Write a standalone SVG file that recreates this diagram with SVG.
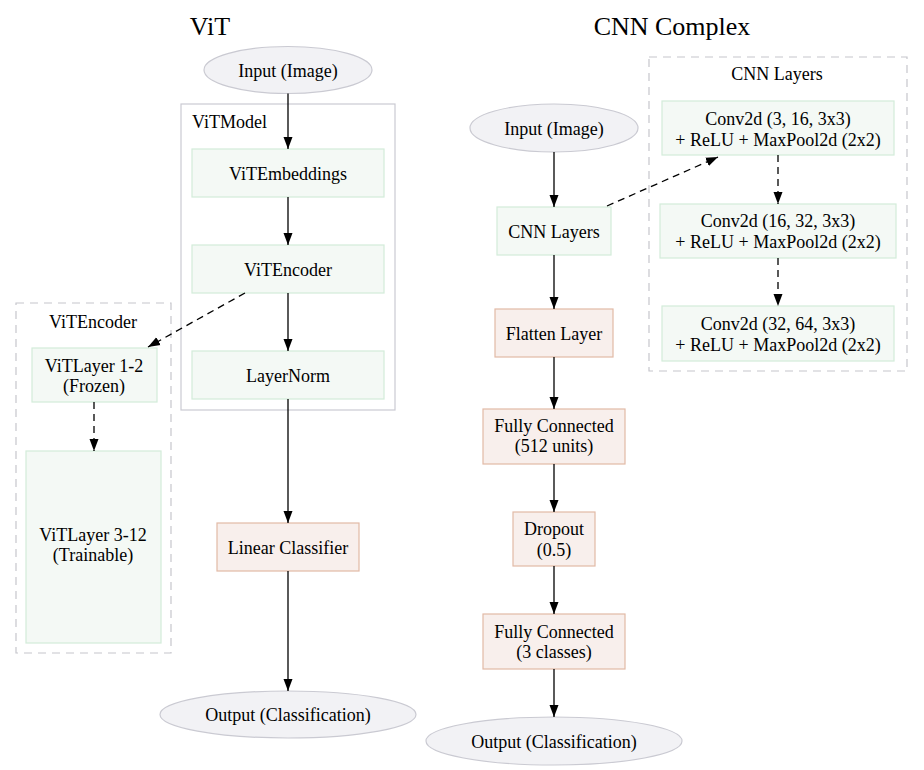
<svg xmlns="http://www.w3.org/2000/svg" width="924" height="770" viewBox="0 0 924 770">
<defs>
<marker id="ah" viewBox="0 0 12 10" refX="12" refY="5" markerWidth="12" markerHeight="10" markerUnits="userSpaceOnUse" orient="auto">
<path d="M0,0.5 L12,5 L0,9.5 Z" fill="#000"/>
</marker>
</defs>
<style>
text{font-family:'Liberation Serif','Times New Roman',serif;font-size:18px;fill:#000;text-anchor:middle}
.title{font-size:26px}
.green{fill:#f4f9f5;stroke:#d2ecd9;stroke-width:1.2}
.peach{fill:#f8efec;stroke:#e2b9a6;stroke-width:1.2}
.ell{fill:#f2f2f5;stroke:#cacad2;stroke-width:1.2}
.clus{fill:none;stroke:#cacad2;stroke-width:1.2}
.dclus{fill:none;stroke:#c6c6cc;stroke-width:1.2;stroke-dasharray:8,6}
.e{fill:none;stroke:#000;stroke-width:1.3;marker-end:url(#ah)}
.d{fill:none;stroke:#000;stroke-width:1.3;stroke-dasharray:7,5;marker-end:url(#ah)}
</style>
<rect width="924" height="770" fill="#fff"/>
<text class="title" x="210" y="35">ViT</text>
<text class="title" x="672" y="35">CNN Complex</text>

<g id="cluster_vitmodel"><rect class="clus" x="181" y="104" width="214" height="306"/><text x="192" y="128" style="text-anchor:start">ViTModel</text></g>
<g id="cluster_vitencoder"><rect class="dclus" x="16" y="303" width="155" height="350"/><text x="93" y="328">ViTEncoder</text></g>
<g id="cluster_cnnlayers"><rect class="dclus" x="649" y="57" width="258" height="314"/><text x="777" y="80">CNN Layers</text></g>

<g id="vit_input"><ellipse class="ell" cx="288" cy="70" rx="84" ry="23.5"/><text x="288" y="76.5">Input (Image)</text></g>
<g id="vit_embeddings"><rect class="green" x="192" y="149" width="192" height="48"/><text x="288" y="179.5">ViTEmbeddings</text></g>
<g id="vit_encoder"><rect class="green" x="192" y="245" width="192" height="48"/><text x="288" y="275.5">ViTEncoder</text></g>
<g id="vit_layernorm"><rect class="green" x="192" y="351" width="192" height="48"/><text x="288" y="381.5">LayerNorm</text></g>
<g id="vit_layer12"><rect class="green" x="32" y="348" width="125" height="54"/><text x="94" y="372">ViTLayer 1-2</text><text x="94" y="392">(Frozen)</text></g>
<g id="vit_layer312"><rect class="green" x="26" y="451" width="135" height="192"/><text x="93" y="541">ViTLayer 3-12</text><text x="93" y="561">(Trainable)</text></g>
<g id="vit_classifier"><rect class="peach" x="217" y="523" width="142" height="48"/><text x="288" y="553.5">Linear Classifier</text></g>
<g id="vit_output"><ellipse class="ell" cx="288" cy="714.5" rx="128" ry="23.5"/><text x="288" y="721">Output (Classification)</text></g>

<g id="cnn_input"><ellipse class="ell" cx="554" cy="128" rx="84" ry="24"/><text x="554" y="134.5">Input (Image)</text></g>
<g id="cnn_layers"><rect class="green" x="497" y="207" width="114" height="48"/><text x="554" y="237.5">CNN Layers</text></g>
<g id="cnn_flatten"><rect class="peach" x="495" y="309" width="118" height="48"/><text x="554" y="339.5">Flatten Layer</text></g>
<g id="cnn_fc512"><rect class="peach" x="483" y="409" width="142" height="55"/><text x="554" y="432">Fully Connected</text><text x="554" y="452">(512 units)</text></g>
<g id="cnn_dropout"><rect class="peach" x="513" y="512" width="82" height="54"/><text x="554" y="535">Dropout</text><text x="554" y="555.5">(0.5)</text></g>
<g id="cnn_fc3"><rect class="peach" x="483" y="614" width="142" height="55"/><text x="554" y="637.5">Fully Connected</text><text x="554" y="657.5">(3 classes)</text></g>
<g id="cnn_output"><ellipse class="ell" cx="554" cy="741" rx="128" ry="24"/><text x="554" y="747.5">Output (Classification)</text></g>
<g id="conv1"><rect class="green" x="662" y="101" width="232" height="54"/><text x="778" y="125">Conv2d (3, 16, 3x3)</text><text x="778" y="145.5">+ ReLU + MaxPool2d (2x2)</text></g>
<g id="conv2"><rect class="green" x="660" y="204" width="236" height="54"/><text x="778" y="227">Conv2d (16, 32, 3x3)</text><text x="778" y="247.5">+ ReLU + MaxPool2d (2x2)</text></g>
<g id="conv3"><rect class="green" x="662" y="306" width="232" height="55"/><text x="778" y="330">Conv2d (32, 64, 3x3)</text><text x="778" y="350.5">+ ReLU + MaxPool2d (2x2)</text></g>

<g id="edges">
<path class="e" d="M288,93.5 L288,149"/>
<path class="e" d="M288,197 L288,245"/>
<path class="e" d="M288,293 L288,351"/>
<path class="e" d="M288,399 L288,523"/>
<path class="e" d="M288,571 L288,691"/>
<path class="d" d="M245,293 L148,347"/>
<path class="d" d="M94,402 L94,451"/>
<path class="e" d="M554,152 L554,207"/>
<path class="e" d="M554,255 L554,309"/>
<path class="e" d="M554,357 L554,409"/>
<path class="e" d="M554,464 L554,512"/>
<path class="e" d="M554,566 L554,614"/>
<path class="e" d="M554,669 L554,717"/>
<path class="d" d="M607,206 L718,157"/>
<path class="d" d="M778,155 L778,204"/>
<path class="d" d="M778,258 L778,306"/>
</g>
</svg>
